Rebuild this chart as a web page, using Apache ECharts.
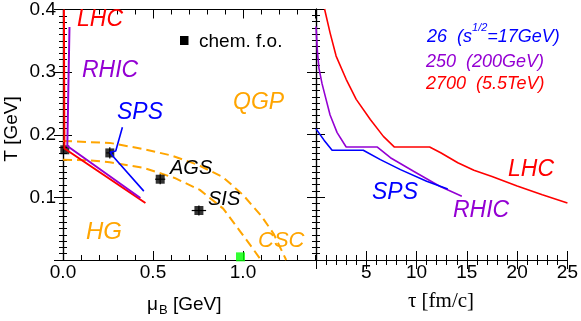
<!DOCTYPE html>
<html><head><meta charset="utf-8">
<script src="https://cdn.jsdelivr.net/npm/echarts@6/dist/echarts.min.js"></script>
<style>html,body{margin:0;padding:0;background:#fff}#c{width:581px;height:321px}</style>
</head><body><div id="c"></div>
<script>
// ---------------- data ----------------
// tick labels
const muBTickLabels = [0.0, 0.5, 1.0];
const tempTickLabels = [0.1, 0.2, 0.3, 0.4];
const tauTickLabels = [5, 10, 15, 20, 25];

// phase boundaries (mu_B [GeV], T [GeV])
const boundaryInner = [[0,0.160],[0.15,0.159],[0.26,0.156],[0.45,0.147],[0.62,0.131],[0.76,0.112],[0.89,0.082],[0.986,0.045],[1.05,0.020],[1.10,0.0]];
const boundaryOuter = [[0,0.190],[0.26,0.187],[0.45,0.177],[0.60,0.167],[0.75,0.152],[0.89,0.132],[1.0,0.104],[1.10,0.071],[1.17,0.042],[1.24,0.0]];

// trajectories in the phase diagram
const lhcPath = [[0.005,0.40],[0.008,0.178],[0.458,0.091]];
const rhicPath = [[0.036,0.372],[0.024,0.182],[0.43,0.099]];
const spsPath = [[0.33,0.212],[0.293,0.174],[0.262,0.172],[0.28,0.165],[0.449,0.110]];

// chemical freeze-out points
const chemMuB = [0.01, 0.26, 0.54, 0.755];
const chemT = [0.176, 0.171, 0.129, 0.079];
const chemErrMuB = [0.0, 0.02, 0.028, 0.04];
const chemErrT = [0.0, 0.009, 0.008, 0.008];
const nuclearMatter = [[0.986, 0.005]];

// T vs tau (tau [fm/c], T [GeV])
const spsTau = [[0,0.209],[0.8,0.191],[1.6,0.175],[4.7,0.175],[6.4,0.160],[8.4,0.144],[11.0,0.1255],[13.1,0.113]];
const rhicTau = [[0,0.372],[0.15,0.33],[0.3,0.305],[0.6,0.281],[1.0,0.256],[1.4,0.231],[2.1,0.203],[3.0,0.180],[6.1,0.180],[7.4,0.163],[9.7,0.1415],[12.3,0.1175],[14.5,0.1015]];
const lhcTau = [[0.85,0.40],[1.4,0.362],[2.0,0.325],[3.0,0.288],[4.0,0.256],[5.4,0.224],[6.7,0.197],[7.8,0.180],[11.3,0.180],[12.4,0.171],[14.1,0.155],[15.7,0.143],[17.5,0.133],[20,0.118],[22.5,0.104],[25,0.091]];

// ---------------- chart ----------------
const FF = '"Liberation Sans", Arial, sans-serif';
const RED = '#ff0000', BLUE = '#0000ff', PURPLE = '#9400d3', ORANGE = '#ffa500', GREEN = '#00ff00';
const chemData = chemMuB.map((m,i)=>[m, chemT[i], chemErrMuB[i], chemErrT[i]]);

const lineAx = {show:true, lineStyle:{color:'#000', width:1.2}};
function xAx(grid, pos, min, max, interval, opts) {
  return Object.assign({
    type:'value', gridIndex:grid, position:pos, min, max, interval,
    axisLine: lineAx, splitLine:{show:false},
    axisTick:{show:true, inside:true, length:9, lineStyle:{color:'#000'}},
    axisLabel:{show:false}
  }, opts||{});
}
const chart = echarts.init(document.getElementById('c'), null, {renderer:'canvas'});
const labelStyle = {show:true, color:'#000', fontSize:19, fontFamily:FF};

const option = {
  animation:false,
  backgroundColor:'#fff',
  grid:[
    {left:63, top:9, width:252, height:251},
    {left:316, top:9, width:252, height:251}
  ],
  xAxis:[
    xAx(0,'bottom',0,1.4,0.5,{axisLabel:Object.assign({}, labelStyle, {margin:3, showMaxLabel:false,
      formatter:v=> muBTickLabels.some(t=>Math.abs(t-v)<1e-6) ? v.toFixed(1) : ''})}),
    xAx(0,'bottom',0,1.4,0.1,{axisTick:{show:true, inside:true, length:5, lineStyle:{color:'#000'}}}),
    xAx(0,'top',0,1.4,0.5),
    xAx(0,'top',0,1.4,0.1,{axisTick:{show:true, inside:true, length:5, lineStyle:{color:'#000'}}}),
    xAx(1,'bottom',0,25,5,{minorTick:{show:true, splitNumber:5, length:5, lineStyle:{color:'#000'}},
      axisLabel:Object.assign({}, labelStyle, {margin:3, showMinLabel:false,
      formatter:v=> tauTickLabels.includes(v) ? String(v) : ''})}),
    xAx(1,'top',0,25,5,{minorTick:{show:true, splitNumber:5, length:5, lineStyle:{color:'#000'}}})
  ],
  yAxis:[
    xAx(0,'left',0,0.4,0.1,{minorTick:{show:true, splitNumber:10, length:4, lineStyle:{color:'#000'}},
      axisLabel:Object.assign({}, labelStyle, {margin:7, showMinLabel:false,
      formatter:v=> tempTickLabels.some(t=>Math.abs(t-v)<1e-6) ? v.toFixed(1) : ''})}),
    xAx(0,'right',0,0.4,0.1,{minorTick:{show:true, splitNumber:10, length:4, lineStyle:{color:'#000'}}}),
    xAx(1,'left',0,0.4,0.1,{minorTick:{show:true, splitNumber:10, length:4, lineStyle:{color:'#000'}}}),
    xAx(1,'right',0,0.4,0.1,{minorTick:{show:true, splitNumber:10, length:4, lineStyle:{color:'#000'}}})
  ],
  series:[
    {type:'line', xAxisIndex:0, yAxisIndex:0, data:boundaryInner, showSymbol:false, z:2,
      lineStyle:{color:ORANGE, width:2, type:[9,5]}},
    {type:'line', xAxisIndex:0, yAxisIndex:0, data:boundaryOuter, showSymbol:false, z:2,
      lineStyle:{color:ORANGE, width:2, type:[9,5]}},
    {type:'custom', xAxisIndex:0, yAxisIndex:0, data:chemData, z:3,
      renderItem:(params, api)=>{
        const mu=api.value(0), T=api.value(1), dm=api.value(2), dT=api.value(3);
        const l=api.coord([mu-dm,T]), r=api.coord([mu+dm,T]), t=api.coord([mu,T+dT]), b=api.coord([mu,T-dT]);
        return {type:'group', children:[
          {type:'line', shape:{x1:l[0],y1:l[1],x2:r[0],y2:r[1]}, style:{stroke:'#000', lineWidth:1.2}},
          {type:'line', shape:{x1:t[0],y1:t[1],x2:b[0],y2:b[1]}, style:{stroke:'#000', lineWidth:1.2}}
        ]};
      }},
    {type:'scatter', xAxisIndex:0, yAxisIndex:0, data:chemData.map(d=>[d[0],d[1]]), symbol:'rect', symbolSize:9,
      itemStyle:{color:'#000'}, z:3},
    {type:'scatter', xAxisIndex:0, yAxisIndex:0, data:nuclearMatter, symbol:'rect', symbolSize:9,
      itemStyle:{color:GREEN}, z:3},
    {type:'line', xAxisIndex:0, yAxisIndex:0, data:rhicPath, showSymbol:false, z:5, lineStyle:{color:PURPLE, width:2}},
    {type:'line', xAxisIndex:0, yAxisIndex:0, data:lhcPath, showSymbol:false, z:4, lineStyle:{color:RED, width:2}},
    {type:'line', xAxisIndex:0, yAxisIndex:0, data:spsPath, showSymbol:false, z:5, lineStyle:{color:BLUE, width:1.6}},
    {type:'line', xAxisIndex:4, yAxisIndex:2, data:lhcTau, showSymbol:false, lineStyle:{color:RED, width:1.6}},
    {type:'line', xAxisIndex:4, yAxisIndex:2, data:rhicTau, showSymbol:false, lineStyle:{color:PURPLE, width:1.6}},
    {type:'line', xAxisIndex:4, yAxisIndex:2, data:spsTau, showSymbol:false, lineStyle:{color:BLUE, width:1.6}}
  ],
  graphic:[]
};
function txt(s, x, y, color, size, italic, extra) {
  return Object.assign({type:'text', x, y, z:100, silent:true,
    style:{text:s, fill:color, font:(italic?'italic ':'')+size+'px '+FF, verticalAlign:'middle', align:'left'}}, extra||{});
}
option.graphic = [
  txt('LHC', 77, 20, RED, 23, true),
  txt('RHIC', 82, 71, PURPLE, 23, true),
  txt('SPS', 117, 113, BLUE, 23, true),
  txt('QGP', 233, 103, ORANGE, 23, true),
  txt('chem. f.o.', 199, 42, '#000', 19, false),
  {type:'rect', shape:{x:180, y:36, width:8.5, height:9}, style:{fill:'#000'}, z:100},
  txt('AGS', 170, 168, '#000', 20, true),
  txt('SIS', 208, 199, '#000', 20, true),
  txt('HG', 86, 232, ORANGE, 24, true),
  txt('CSC', 258, 241, ORANGE, 22, true),
  {type:'text', x:427, y:37, z:100, style:{text:'{a|26  (s}{b|1/2}{a|=17GeV)}', verticalAlign:'middle',
    rich:{a:{fill:BLUE, font:'italic 18px '+FF, lineHeight:30}, b:{fill:BLUE, font:'italic 11px '+FF, lineHeight:11, verticalAlign:'top'}}}},
  txt('250  (200GeV)', 426, 62, PURPLE, 18, true),
  txt('2700  (5.5TeV)', 426, 84, RED, 18, true),
  txt('LHC', 508, 170, RED, 23, true),
  txt('SPS', 372, 193, BLUE, 23, true),
  txt('RHIC', 453, 211, PURPLE, 23, true),
  // axis titles
  {type:'text', x:12, y:129, rotation:Math.PI/2, z:100, style:{text:'T [GeV]', fill:'#000', font:'19px '+FF, align:'center', verticalAlign:'middle'}},
  txt('μ', 147, 305, '#000', 19, false),
  txt('B', 159, 310, '#000', 13, false),
  txt('[GeV]', 173, 305, '#000', 19, false),
  {type:'text', x:441, y:301, z:100, style:{text:'τ [fm/c]', fill:'#000', font:'21px "Liberation Serif", "Times New Roman", serif', align:'center', verticalAlign:'middle'}}
];
chart.setOption(option);
</script></body></html>
